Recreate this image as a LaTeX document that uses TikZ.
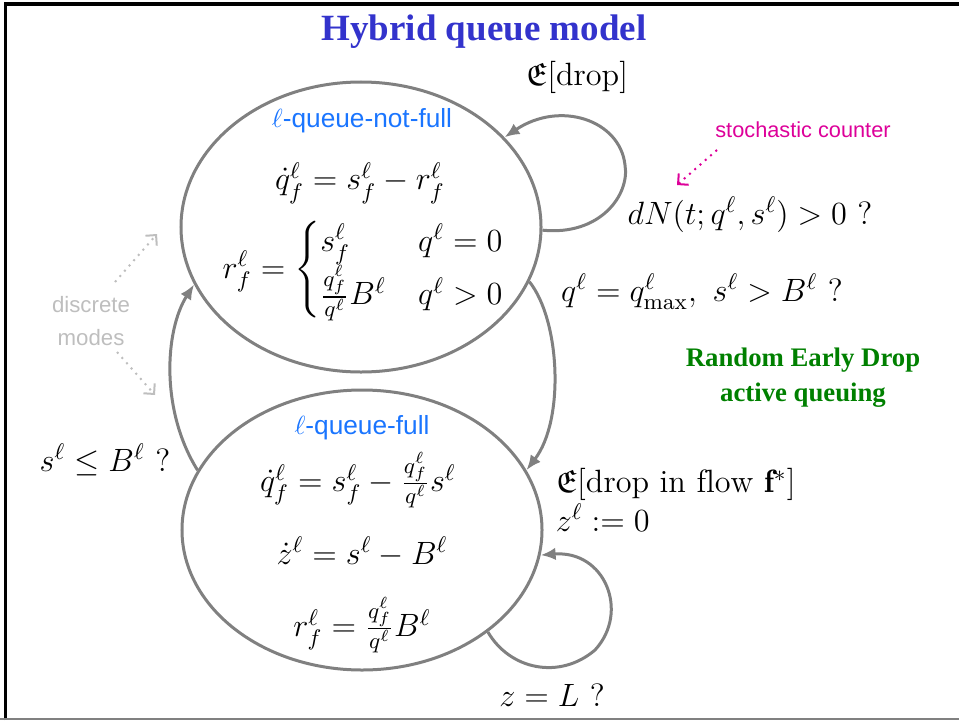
\RequirePackage{fix-cm}
\documentclass[tikz,border=0pt]{standalone}
\usepackage{fontspec}
\usepackage{amsmath,amssymb}
\usetikzlibrary{arrows.meta,shapes.geometric}
\newfontfamily\titlefont{Liberation Serif}
\newfontfamily\labelfont{Liberation Sans}
\definecolor{titleblue}{RGB}{51,51,204}
\definecolor{modeblue}{RGB}{26,117,255}
\definecolor{redgreen}{RGB}{0,128,0}
\definecolor{counterpink}{RGB}{221,0,153}
\definecolor{edgegray}{RGB}{128,128,128}
\definecolor{notegray}{RGB}{190,190,190}

\begin{document}
\begin{tikzpicture}[x=0.4pt,y=-0.4pt,
  mode/.style={draw=edgegray,line width=1.2pt,ellipse,inner sep=0pt},
  flow/.style={draw=edgegray,line width=1.2pt,-{Latex[length=6pt,width=5pt]}},
  hint/.style={line width=0.8pt,dotted,-{Straight Barb[length=3pt,width=6pt]}},
  eq/.style={font=\fontsize{12.9}{15.5}\selectfont},
  modename/.style={text=modeblue,font=\labelfont\fontsize{10.5}{12}\selectfont}]
  \useasboundingbox (0,0) rectangle (959,720);
  \draw[line width=1.2pt] (5,720) -- (5,4) -- (959,4);
  \draw[edgegray,line width=0.8pt] (0,719) -- (959,719);

  \node[text=titleblue,font=\titlefont\bfseries\fontsize{14.8}{17}\selectfont] (title) at (484,32) {Hybrid queue model};

  % the two discrete modes
  \node[mode,minimum width=144pt,minimum height=116pt] (notfull) at (361,227) {};
  \node[mode,minimum width=144pt,minimum height=112pt] (full) at (362,530) {};

  \node[modename] (notfullname) at (362,121) {$\ell$-queue-not-full};
  \node[eq] (qdotnf) at (360,183) {$\dot q^\ell_f = s^\ell_f - r^\ell_f$};
  \node[eq] (rnf) at (364,270) {$r^\ell_f = \begin{cases} s^\ell_f & q^\ell = 0\\ \frac{q^\ell_f}{q^\ell}B^\ell & q^\ell > 0\end{cases}$};

  \node[modename] (fullname) at (362,428) {$\ell$-queue-full};
  \node[eq] (qdotf) at (358,480) {$\dot q^\ell_f = s^\ell_f - \frac{q^\ell_f}{q^\ell}s^\ell$};
  \node[eq] (zdot) at (362,552) {$\dot z^\ell = s^\ell - B^\ell$};
  \node[eq] (rf) at (362,625) {$r^\ell_f = \frac{q^\ell_f}{q^\ell}B^\ell$};

  % jumps
  \draw[flow] (notfull.-1) .. controls (600,236) and (630,195) .. (625,165)
    .. controls (620,120) and (560,100) .. (notfull.32);
  \draw[flow] (notfull.-18) .. controls (560,320) and (565,420) .. (full.20);
  \draw[flow] (full.160) .. controls (160,410) and (165,330) .. (notfull.-161);
  \draw[flow] (full.-39) .. controls (510,670) and (560,680) .. (595,650)
    .. controls (630,612) and (605,550) .. (full.-8);

  \node[eq] (dropnf) at (577,77) {$\mathfrak{E}[\mathrm{drop}]$};
  \node[eq] (dN) at (750,215) {$dN(t;q^\ell,s^\ell) > 0\ ?$};
  \node[eq] (qmax) at (702,292) {$q^\ell = q^\ell_{\max},\ s^\ell > B^\ell\ ?$};
  \node[eq,anchor=west,align=left] (dropf) at (547,500) {$\mathfrak{E}[\mathrm{drop\ in\ flow}\ \mathbf{f}^*]$\\[0pt] $z^\ell := 0$};
  \node[eq] (sB) at (105,460) {$s^\ell \leq B^\ell\ ?$};
  \node[eq] (zL) at (552,695) {$z = L\ ?$};

  \node[text=redgreen,font=\titlefont\bfseries\fontsize{10.7}{14}\selectfont,align=center] (red) at (803,378) {Random Early Drop\\active queuing};

  % annotations
  \node[text=counterpink,font=\labelfont\fontsize{8.7}{10}\selectfont] (counter) at (803,130) {stochastic counter};
  \coordinate (countertail) at (717,150);
  \coordinate (countertip) at (677,185);
  \draw[hint,counterpink] (countertail) -- (countertip);

  \node[text=notegray,font=\labelfont\fontsize{8.9}{13}\selectfont,align=center] (modes) at (91,321) {discrete\\modes};
  \coordinate (modesup) at (157,234);
  \coordinate (modesdown) at (155,395);
  \draw[hint,notegray] (115,282) -- (modesup);
  \draw[hint,notegray] (117,352) -- (modesdown);
\end{tikzpicture}
\end{document}
